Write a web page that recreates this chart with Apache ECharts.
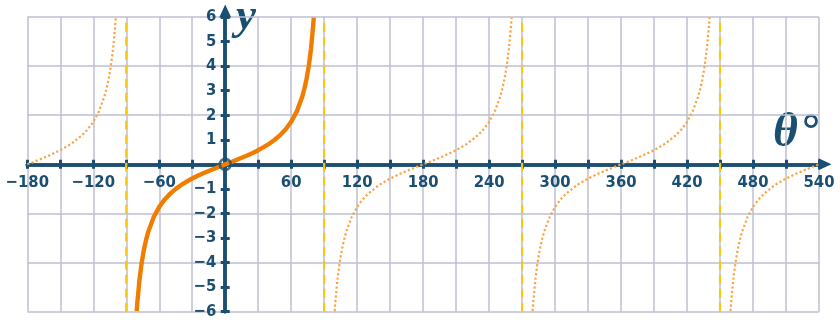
<!DOCTYPE html>
<html>
<head>
<meta charset="utf-8">
<script src="https://cdn.jsdelivr.net/npm/echarts@6/dist/echarts.min.js"></script>
<style>
  html, body { margin: 0; padding: 0; background: #ffffff; }
  #chart { width: 840px; height: 325px; }
</style>
</head>
<body>
<div id="chart"></div>
<script>
// y = tan θ, θ in degrees; values read at each listed angle
const mainDeg = [-80.5, -80, -78, -76, -74, -72, -70, -65, -60, -55, -50, -45, -40, -35, -30, -25, -20, -15, -10, -5,
                 0, 5, 10, 15, 20, 25, 30, 35, 40, 45, 50, 55, 60, 65, 70, 72, 74, 76, 78, 80, 80.5];
const mainY   = [-5.976, -5.671, -4.705, -4.011, -3.487, -3.078, -2.747, -2.145, -1.732, -1.428, -1.192, -1, -0.839, -0.7, -0.577, -0.466, -0.364, -0.268, -0.176, -0.087,
                 0, 0.087, 0.176, 0.268, 0.364, 0.466, 0.577, 0.7, 0.839, 1, 1.192, 1.428, 1.732, 2.145, 2.747, 3.078, 3.487, 4.011, 4.705, 5.671, 5.976];

const branchADeg = [-180, -170, -160, -150, -140, -130, -125, -120, -115, -110, -108, -106, -104, -102, -100, -99.5];
const branchAY   = [0, 0.176, 0.364, 0.577, 0.839, 1.192, 1.428, 1.732, 2.145, 2.747, 3.078, 3.487, 4.011, 4.705, 5.671, 5.976];

const branchBDeg = [99.5, 100, 102, 104, 106, 108, 110, 115, 120, 125, 130, 140, 150, 160, 170, 180,
                    190, 200, 210, 220, 230, 235, 240, 245, 250, 252, 254, 256, 258, 260, 260.5];
const branchBY   = [-5.976, -5.671, -4.705, -4.011, -3.487, -3.078, -2.747, -2.145, -1.732, -1.428, -1.192, -0.839, -0.577, -0.364, -0.176, 0,
                    0.176, 0.364, 0.577, 0.839, 1.192, 1.428, 1.732, 2.145, 2.747, 3.078, 3.487, 4.011, 4.705, 5.671, 5.976];

const branchCDeg = [279.5, 280, 282, 284, 286, 288, 290, 295, 300, 305, 310, 320, 330, 340, 350, 360,
                    370, 380, 390, 400, 410, 415, 420, 425, 430, 432, 434, 436, 438, 440, 440.5];
const branchCY   = [-5.976, -5.671, -4.705, -4.011, -3.487, -3.078, -2.747, -2.145, -1.732, -1.428, -1.192, -0.839, -0.577, -0.364, -0.176, 0,
                    0.176, 0.364, 0.577, 0.839, 1.192, 1.428, 1.732, 2.145, 2.747, 3.078, 3.487, 4.011, 4.705, 5.671, 5.976];

const branchDDeg = [459.5, 460, 462, 464, 466, 468, 470, 475, 480, 485, 490, 500, 510, 520, 530, 540];
const branchDY   = [-5.976, -5.671, -4.705, -4.011, -3.487, -3.078, -2.747, -2.145, -1.732, -1.428, -1.192, -0.839, -0.577, -0.364, -0.176, 0];

// vertical asymptotes of tan θ
const asymptotes = [-90, 90, 270, 450];

// tick labels
const xLabels = [-180, -120, -60, 60, 120, 180, 240, 300, 360, 420, 480, 540];
const yLabels = [-6, -5, -4, -3, -2, -1, 1, 2, 3, 4, 5, 6];

const X_MIN = -180, X_MAX = 540, Y_MIN = -6, Y_MAX = 6;

const GRID_RECT = { left: 27.3, right: 21, top: 17, bottom: 13.3 };
const CHART_W = 840, CHART_H = 325;
const plotW = CHART_W - GRID_RECT.left - GRID_RECT.right;
const plotH = CHART_H - GRID_RECT.top - GRID_RECT.bottom;
// distance from the plot's left / bottom edge to the line through zero
const zeroFromLeft = plotW * (0 - X_MIN) / (X_MAX - X_MIN);
const zeroFromBottom = plotH * (0 - Y_MIN) / (Y_MAX - Y_MIN);

const AXIS = '#1b4f72';
const GRID = '#bcbfd1';
const ORANGE = '#f07d00';
const ORANGE_LIGHT = '#f9a443';
const GOLD = '#fcc70a';

const minus = v => (v < 0 ? '\u2212' + Math.abs(v) : String(v));
const zip = (a, b) => a.map((v, i) => [v, b[i]]);

const labelFont = { color: AXIS, fontFamily: '"DejaVu Sans Condensed", "DejaVu Sans"', fontWeight: 'bold', fontSize: 16.5 };

const chart = echarts.init(document.getElementById('chart'), null, { renderer: 'canvas' });

const dotted = (deg, y) => ({
  type: 'line', data: zip(deg, y), showSymbol: false, symbol: 'none', z: 4,
  lineStyle: { color: ORANGE_LIGHT, width: 2.2, type: [2.2, 2.3] }
});

const asymSeries = asymptotes.map(a => ({
  type: 'line', data: [[a, Y_MIN], [a, Y_MAX]], symbol: 'none', z: 3,
  lineStyle: { color: GOLD, width: 2.2, type: [9, 5] }
}));

// each axis line is drawn twice (outer ticks + inner ticks) so the ticks cross the line
const axisLineStyle = { color: AXIS, width: 3.5 };
const tickStyle = { color: AXIS, width: 3 };
const hidden = { axisLine: { show: false, onZero: false }, axisTick: { show: false }, axisLabel: { show: false }, splitLine: { show: false } };

chart.setOption({
  animation: false,
  backgroundColor: '#ffffff',
  grid: { ...GRID_RECT, containLabel: false, outerBoundsMode: 'none' },
  xAxis: [
    {
      type: 'value', min: X_MIN, max: X_MAX, interval: 30, position: 'bottom',
      axisLine: { show: true, onZero: true, onZeroAxisIndex: 0, symbol: ['none', 'triangle'], symbolSize: [12, 13], symbolOffset: [0, 6],
                  lineStyle: axisLineStyle },
      axisTick: { show: true, inside: false, length: 4.5, lineStyle: tickStyle },
      axisLabel: { show: false },
      splitLine: { show: true, lineStyle: { color: GRID, width: 1.5 } }
    },
    {
      type: 'value', min: X_MIN, max: X_MAX, interval: 30, position: 'bottom',
      axisLine: { show: true, onZero: true, onZeroAxisIndex: 1, symbol: 'none', lineStyle: axisLineStyle },
      axisTick: { show: true, inside: true, length: 4.5, lineStyle: tickStyle },
      axisLabel: { show: false },
      splitLine: { show: false }
    },
    {
      // θ labels, placed along the zero line
      type: 'value', min: X_MIN, max: X_MAX, interval: 30, position: 'bottom', offset: -zeroFromBottom,
      ...hidden,
      axisLabel: { show: true, margin: 10, ...labelFont,
                   formatter: v => (xLabels.includes(v) ? minus(v) : '') }
    }
  ],
  yAxis: [
    {
      type: 'value', min: Y_MIN, max: Y_MAX, interval: 1, position: 'left',
      axisLine: { show: true, onZero: true, onZeroAxisIndex: 0, symbol: ['none', 'triangle'], symbolSize: [12, 13], symbolOffset: [0, 6],
                  lineStyle: axisLineStyle },
      axisTick: { show: true, inside: false, length: 4.5, lineStyle: tickStyle },
      axisLabel: { show: false },
      splitLine: { show: false }
    },
    {
      type: 'value', min: Y_MIN, max: Y_MAX, interval: 1, position: 'left',
      axisLine: { show: true, onZero: true, onZeroAxisIndex: 1, symbol: 'none', lineStyle: axisLineStyle },
      axisTick: { show: true, inside: true, length: 4.5, lineStyle: tickStyle },
      axisLabel: { show: false },
      splitLine: { show: false }
    },
    {
      type: 'value', min: Y_MIN, max: Y_MAX, interval: 2, position: 'right',
      ...hidden,
      splitLine: { show: true, lineStyle: { color: GRID, width: 1.5 } }
    },
    {
      // y labels, placed along the zero line
      type: 'value', min: Y_MIN, max: Y_MAX, interval: 1, position: 'left', offset: -zeroFromLeft,
      ...hidden,
      axisLabel: { show: true, margin: 9, ...labelFont,
                   formatter: v => (yLabels.includes(v) ? minus(v) : '') }
    }
  ],
  series: [
    ...asymSeries,
    dotted(branchADeg, branchAY),
    dotted(branchBDeg, branchBY),
    dotted(branchCDeg, branchCY),
    dotted(branchDDeg, branchDY),
    {
      type: 'line', data: zip(mainDeg, mainY), symbol: 'none', z: 5,
      lineStyle: { color: ORANGE, width: 4.4 }
    },
    {
      // origin marker
      type: 'scatter', data: [[0, 0]], symbol: 'circle', symbolSize: 11, z: 6,
      itemStyle: { color: 'rgba(0,0,0,0)', borderColor: AXIS, borderWidth: 2.6 }
    }
  ],
  graphic: [
    { type: 'text', left: 236, top: -5,
      style: { text: 'y', fill: AXIS, font: 'italic bold 45px "Liberation Serif", "DejaVu Serif", serif' } },
    { type: 'text', left: 773, top: 110,
      style: { text: '\u03b8', fill: AXIS, font: 'italic bold 48px "Liberation Serif", "DejaVu Serif", serif' } },
    { type: 'text', left: 800, top: 114,
      style: { text: '\u00b0', fill: AXIS, font: '44px "DejaVu Sans", sans-serif' } }
  ]
});
</script>
</body>
</html>
